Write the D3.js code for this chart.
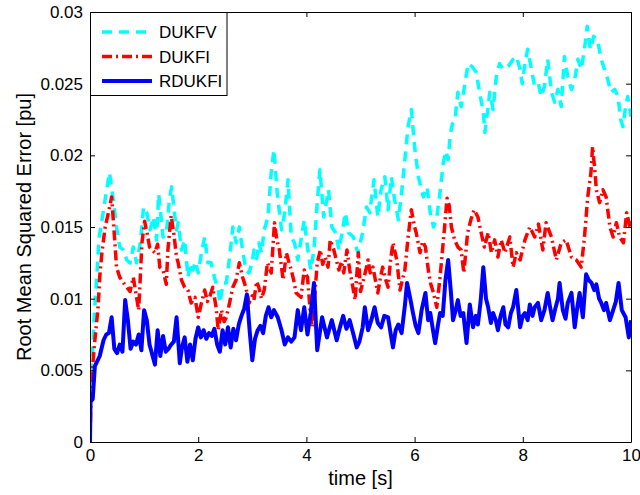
<!DOCTYPE html>
<html>
<head>
<meta charset="utf-8">
<script src="https://cdn.jsdelivr.net/npm/d3@7"></script>
<style>
  body { margin: 0; background: #fff; }
  text { font-family: "Liberation Sans", Arial, sans-serif; fill: #000; }
</style>
</head>
<body>
<div id="chart"></div>
<script>
// tick labels
const xTicks = [0, 2, 4, 6, 8, 10];
const yTicks = [0, 0.005, 0.01, 0.015, 0.02, 0.025, 0.03];

// DUKFV (cyan, dashed)
const tV = [0, 0.02, 0.05, 0.08, 0.11, 0.14, 0.17, 0.23, 0.3, 0.36, 0.43, 0.49, 0.55, 0.62, 0.68, 0.74, 0.8, 0.86, 0.93, 0.99,
  1.05, 1.11, 1.17, 1.23, 1.27, 1.35, 1.41, 1.47, 1.51, 1.56, 1.6, 1.63, 1.69, 1.75, 1.81, 1.86, 1.9, 1.95, 2.0,
  2.06, 2.12, 2.18, 2.24, 2.3, 2.37, 2.4, 2.46, 2.52, 2.58, 2.64, 2.7, 2.76, 2.82, 2.88, 2.94, 3.0,
  3.03, 3.08, 3.12, 3.17, 3.22, 3.29, 3.35, 3.4, 3.46, 3.54, 3.6, 3.66, 3.72, 3.78, 3.84, 3.9, 3.96, 4.02,
  4.08, 4.14, 4.2, 4.25, 4.32, 4.41, 4.47, 4.54, 4.6, 4.66, 4.72, 4.78, 4.87, 4.95, 5.04, 5.11, 5.17, 5.25,
  5.32, 5.38, 5.45, 5.51, 5.57, 5.63, 5.7, 5.76, 5.82, 5.88, 5.94, 6.0, 6.07, 6.16, 6.23, 6.29, 6.35, 6.41,
  6.47, 6.53, 6.58, 6.62, 6.66, 6.7, 6.74, 6.8, 6.86, 6.93, 6.99, 7.06, 7.14, 7.2, 7.27, 7.3, 7.33, 7.39,
  7.45, 7.51, 7.57, 7.64, 7.73, 7.82, 7.88, 7.95, 7.99, 8.04, 8.09, 8.16, 8.22, 8.29, 8.34, 8.4, 8.46, 8.53,
  8.59, 8.65, 8.71, 8.77, 8.83, 8.9, 8.96, 9.02, 9.08, 9.14, 9.19, 9.25, 9.31, 9.38, 9.45, 9.51, 9.57, 9.63,
  9.7, 9.76, 9.81, 9.85, 9.9, 9.94, 10.0];
const vV = [0.0036, 0.0048, 0.0064, 0.009, 0.0106, 0.0125, 0.0143, 0.0157, 0.0174, 0.0188, 0.0169, 0.015, 0.0136, 0.0134, 0.0127, 0.0125, 0.0136, 0.0125, 0.0139, 0.0164,
  0.016, 0.0148, 0.0157, 0.0141, 0.0173, 0.0143, 0.0145, 0.017, 0.0178, 0.016, 0.0148, 0.0153, 0.0134, 0.0141, 0.0115, 0.0125, 0.012, 0.0126, 0.0118,
  0.0132, 0.0143, 0.0125, 0.0125, 0.0115, 0.0106, 0.0097, 0.0111, 0.0111, 0.0129, 0.015, 0.0139, 0.015, 0.0134, 0.012, 0.0118, 0.0126,
  0.0134, 0.0128, 0.0139, 0.0132, 0.0148, 0.0157, 0.0188, 0.0204, 0.0174, 0.0148, 0.016, 0.0183, 0.0143, 0.0139, 0.0127, 0.0141, 0.0155, 0.0136,
  0.012, 0.0134, 0.0167, 0.019, 0.0157, 0.0176, 0.015, 0.0146, 0.0134, 0.0146, 0.016, 0.0146, 0.0143, 0.0132, 0.0146, 0.0164, 0.016, 0.0183,
  0.0157, 0.0176, 0.0185, 0.0162, 0.0185, 0.0169, 0.0155, 0.0174, 0.0197, 0.022, 0.0232, 0.0206, 0.0185, 0.0171, 0.0178, 0.016, 0.015, 0.0157,
  0.0174, 0.0195, 0.0203, 0.0197, 0.0215, 0.0222, 0.0223, 0.0244, 0.0234, 0.025, 0.0264, 0.0262, 0.0258, 0.0244, 0.023, 0.0216, 0.0225, 0.0244,
  0.0232, 0.0255, 0.0264, 0.026, 0.0262, 0.0267, 0.0269, 0.026, 0.025, 0.0264, 0.0274, 0.026, 0.0248, 0.025, 0.0241, 0.0248, 0.0267, 0.0244,
  0.0237, 0.0246, 0.0234, 0.0269, 0.0255, 0.0246, 0.0253, 0.0267, 0.026, 0.0274, 0.029, 0.0274, 0.0283, 0.0281, 0.0267, 0.026, 0.0253, 0.0244,
  0.0246, 0.0241, 0.0225, 0.022, 0.0234, 0.0241, 0.0227];

// DUKFI (red, dash-dot)
const tI = [0, 0.02, 0.09, 0.15, 0.18, 0.22, 0.28, 0.34, 0.4, 0.43, 0.46, 0.49, 0.55, 0.62, 0.68, 0.74, 0.8, 0.86, 0.9, 0.96,
  1.01, 1.06, 1.1, 1.15, 1.2, 1.25, 1.29, 1.35, 1.41, 1.44, 1.5, 1.55, 1.6, 1.63, 1.69, 1.75, 1.81, 1.87, 1.94, 2.0,
  2.06, 2.12, 2.17, 2.21, 2.27, 2.33, 2.37, 2.43, 2.48, 2.52, 2.58, 2.64, 2.7, 2.76, 2.82, 2.88, 2.94, 3.0,
  3.03, 3.08, 3.12, 3.17, 3.22, 3.28, 3.35, 3.41, 3.45, 3.5, 3.57, 3.63, 3.68, 3.72, 3.77, 3.81, 3.9, 3.96,
  4.02, 4.08, 4.11, 4.16, 4.2, 4.26, 4.3, 4.35, 4.4, 4.44, 4.5, 4.54, 4.6, 4.65, 4.69, 4.75, 4.8, 4.85, 4.9,
  4.96, 5.0, 5.04, 5.1, 5.14, 5.18, 5.23, 5.28, 5.32, 5.37, 5.41, 5.46, 5.51, 5.55, 5.6, 5.67, 5.73, 5.78,
  5.82, 5.88, 5.94, 6.0, 6.03, 6.1, 6.15, 6.2, 6.26, 6.3, 6.35, 6.41, 6.47, 6.55, 6.6, 6.64, 6.68, 6.74, 6.8,
  6.86, 6.91, 6.98, 7.04, 7.1, 7.17, 7.23, 7.29, 7.36, 7.42, 7.48, 7.54, 7.6, 7.67, 7.76, 7.82, 7.88, 7.95,
  8.04, 8.13, 8.22, 8.29, 8.37, 8.43, 8.53, 8.62, 8.71, 8.8, 8.9, 8.99, 9.08, 9.14, 9.2, 9.26, 9.29, 9.33,
  9.36, 9.42, 9.48, 9.54, 9.61, 9.67, 9.73, 9.79, 9.86, 9.92, 9.98, 10.0];
const vI = [0, 0.004, 0.0071, 0.0094, 0.0115, 0.0132, 0.015, 0.016, 0.0171, 0.0155, 0.0139, 0.0122, 0.0115, 0.0111, 0.0108, 0.0105, 0.0115, 0.0101, 0.0092, 0.0139,
  0.0154, 0.0145, 0.0136, 0.0134, 0.0132, 0.0138, 0.0122, 0.012, 0.011, 0.0134, 0.0158, 0.0145, 0.0129, 0.0125, 0.0113, 0.0108, 0.0106, 0.0097, 0.0101, 0.0087,
  0.0097, 0.0106, 0.0098, 0.0101, 0.0108, 0.0094, 0.0078, 0.0092, 0.0084, 0.0087, 0.0097, 0.0108, 0.0113, 0.0125, 0.0115, 0.0108, 0.0097, 0.0102,
  0.0099, 0.0112, 0.0108, 0.01, 0.0106, 0.0125, 0.0118, 0.0153, 0.0142, 0.0134, 0.0113, 0.0132, 0.0125, 0.012, 0.0112, 0.0104, 0.0101, 0.012,
  0.0115, 0.0087, 0.008, 0.0105, 0.0125, 0.0134, 0.0124, 0.0129, 0.0122, 0.0141, 0.0135, 0.0129, 0.012, 0.0126, 0.0118, 0.0134, 0.012, 0.011, 0.0099,
  0.0132, 0.0105, 0.0111, 0.012, 0.0127, 0.0118, 0.0122, 0.0112, 0.0104, 0.0115, 0.0122, 0.0114, 0.0108, 0.0125, 0.0139, 0.0127, 0.0106, 0.0114,
  0.012, 0.0143, 0.0162, 0.015, 0.0146, 0.0132, 0.014, 0.0136, 0.0118, 0.011, 0.0104, 0.0094, 0.0115, 0.0148, 0.017, 0.0165, 0.015, 0.0141, 0.0136,
  0.0134, 0.0118, 0.0146, 0.0155, 0.0162, 0.0157, 0.0146, 0.0136, 0.0146, 0.0132, 0.0141, 0.0129, 0.0141, 0.0132, 0.0143, 0.0122, 0.0132, 0.0127,
  0.0141, 0.015, 0.0143, 0.0152, 0.0134, 0.0153, 0.0143, 0.0127, 0.0139, 0.0141, 0.0129, 0.0127, 0.0122, 0.0143, 0.0171, 0.0188, 0.0206, 0.019,
  0.0176, 0.0167, 0.0176, 0.0171, 0.015, 0.0143, 0.0153, 0.0143, 0.0139, 0.016, 0.015, 0.0155];

// RDUKFI (blue, solid)
const tR = [0, 0.01, 0.05, 0.09, 0.18, 0.25, 0.3, 0.35, 0.4, 0.45, 0.5, 0.55, 0.6, 0.65, 0.7, 0.75, 0.8, 0.85, 0.9, 0.95,
  1.0, 1.05, 1.1, 1.15, 1.2, 1.25, 1.3, 1.35, 1.4, 1.45, 1.5, 1.55, 1.6, 1.66, 1.7, 1.75, 1.8, 1.85, 1.9, 1.95, 2.0,
  2.05, 2.1, 2.15, 2.2, 2.25, 2.3, 2.35, 2.4, 2.45, 2.5, 2.55, 2.6, 2.65, 2.7, 2.75, 2.8, 2.85, 2.9, 2.95, 3.0,
  3.05, 3.1, 3.15, 3.2, 3.25, 3.3, 3.35, 3.4, 3.47, 3.54, 3.6, 3.66, 3.72, 3.78, 3.84, 3.9, 3.96, 4.02, 4.08, 4.14,
  4.2, 4.29, 4.38, 4.47, 4.56, 4.62, 4.68, 4.74, 4.8, 4.87, 4.93, 4.98, 5.04, 5.08, 5.14, 5.2, 5.26, 5.32, 5.38,
  5.44, 5.51, 5.56, 5.6, 5.65, 5.7, 5.76, 5.82, 5.86, 5.92, 5.97, 6.02, 6.07, 6.13, 6.2, 6.25, 6.29, 6.34, 6.38,
  6.43, 6.47, 6.52, 6.57, 6.62, 6.67, 6.71, 6.76, 6.8, 6.85, 6.9, 6.96, 7.02, 7.08, 7.13, 7.17, 7.22, 7.27, 7.32,
  7.36, 7.41, 7.45, 7.5, 7.54, 7.59, 7.64, 7.68, 7.73, 7.78, 7.82, 7.88, 7.95, 8.0, 8.04, 8.09, 8.13, 8.18, 8.22,
  8.28, 8.34, 8.4, 8.46, 8.5, 8.55, 8.6, 8.65, 8.68, 8.74, 8.79, 8.83, 8.9, 8.96, 9.0, 9.05, 9.11, 9.17, 9.22,
  9.27, 9.32, 9.36, 9.41, 9.45, 9.5, 9.54, 9.61, 9.67, 9.72, 9.77, 9.83, 9.9, 9.96, 10.0];
const vR = [0, 0.0028, 0.003, 0.0053, 0.006, 0.0071, 0.0075, 0.0076, 0.0087, 0.0065, 0.0062, 0.0068, 0.0063, 0.0099, 0.0085, 0.0065, 0.007, 0.0068, 0.0075, 0.0064,
  0.0092, 0.0085, 0.0068, 0.0061, 0.0054, 0.0078, 0.006, 0.0074, 0.0063, 0.0065, 0.0068, 0.007, 0.0087, 0.0055, 0.0066, 0.0073, 0.0056, 0.0068, 0.0057, 0.0072, 0.008,
  0.0073, 0.0078, 0.0072, 0.0076, 0.0074, 0.0079, 0.0068, 0.0063, 0.0078, 0.0068, 0.008, 0.0066, 0.0079, 0.0071, 0.0082, 0.0088, 0.0093, 0.0103, 0.0078, 0.0057,
  0.0072, 0.0078, 0.0081, 0.0076, 0.0088, 0.0094, 0.0087, 0.0092, 0.0087, 0.0078, 0.0068, 0.0073, 0.007, 0.0073, 0.0092, 0.0078, 0.0094, 0.0075, 0.009, 0.0111,
  0.0064, 0.0087, 0.0073, 0.0085, 0.0071, 0.008, 0.0088, 0.0079, 0.0085, 0.0075, 0.0066, 0.007, 0.008, 0.0094, 0.0078, 0.0085, 0.0094, 0.0083, 0.008,
  0.0088, 0.0087, 0.0075, 0.0066, 0.0078, 0.0082, 0.0076, 0.0095, 0.0111, 0.01, 0.009, 0.0081, 0.0076, 0.0092, 0.0104, 0.0085, 0.009, 0.0078, 0.0069,
  0.0081, 0.009, 0.0088, 0.0113, 0.0127, 0.0105, 0.0085, 0.0092, 0.0099, 0.0088, 0.009, 0.0069, 0.0096, 0.008, 0.0088, 0.0082, 0.0098, 0.0122, 0.01,
  0.0094, 0.0083, 0.009, 0.0085, 0.0078, 0.0088, 0.0094, 0.0082, 0.008, 0.009, 0.0094, 0.0106, 0.008, 0.0088, 0.009, 0.0085, 0.0096, 0.0088, 0.0094,
  0.0097, 0.0085, 0.0092, 0.0104, 0.0095, 0.0085, 0.0093, 0.01, 0.0111, 0.0092, 0.0086, 0.0097, 0.0104, 0.008, 0.0092, 0.0104, 0.0087, 0.0117, 0.0113,
  0.0111, 0.0106, 0.011, 0.01, 0.0097, 0.0092, 0.0097, 0.0085, 0.0092, 0.0098, 0.0111, 0.0092, 0.0087, 0.0073, 0.0085];

const W = 640, H = 495;
const padL = 90, padR = 631, padT = 12, padB = 442;

const svg = d3.select("#chart").append("svg")
  .attr("width", W)
  .attr("height", H);

const x = d3.scaleLinear().domain([0, 10]).range([padL, padR]);
const y = d3.scaleLinear().domain([0, 0.03]).range([padB, padT]);

svg.append("clipPath").attr("id", "clip")
  .append("rect")
  .attr("x", padL).attr("y", padT)
  .attr("width", padR - padL).attr("height", padB - padT);

const series = [
  { name: "DUKFV", t: tV, v: vV, color: "#00ffff", dash: "10,7", width: 3.5 },
  { name: "DUKFI", t: tI, v: vI, color: "#ff0000", dash: "10,4,2,4", width: 3.5 },
  { name: "RDUKFI", t: tR, v: vR, color: "#0000ff", dash: null, width: 4 }
];

const line = d3.line()
  .defined(d => d[1] != null)
  .x(d => x(d[0]))
  .y(d => y(d[1]));

const plot = svg.append("g").attr("clip-path", "url(#clip)");

series.forEach(s => {
  plot.append("path")
    .datum(s.t.map((t, i) => [t, s.v[i]]))
    .attr("d", line)
    .attr("fill", "none")
    .attr("stroke", s.color)
    .attr("stroke-width", s.width)
    .attr("stroke-dasharray", s.dash)
    .attr("stroke-linejoin", "round");
});

// axes, MATLAB style: ticks inside on all four sides
const fmt = d => d3.format("~g")(d);

svg.append("g")
  .attr("transform", `translate(0,${padB})`)
  .call(d3.axisBottom(x).tickValues(xTicks).tickSizeInner(-5).tickSizeOuter(0).tickPadding(7).tickFormat(fmt))
  .call(g => g.selectAll("text").attr("font-size", 17));

svg.append("g")
  .attr("transform", `translate(${padL},0)`)
  .call(d3.axisLeft(y).tickValues(yTicks).tickSizeInner(-5).tickSizeOuter(0).tickPadding(7).tickFormat(fmt))
  .call(g => g.selectAll("text").attr("font-size", 17));

svg.append("g")
  .attr("transform", `translate(0,${padT})`)
  .call(d3.axisTop(x).tickValues(xTicks).tickSizeInner(-5).tickSizeOuter(0).tickFormat(""));

svg.append("g")
  .attr("transform", `translate(${padR},0)`)
  .call(d3.axisRight(y).tickValues(yTicks).tickSizeInner(-5).tickSizeOuter(0).tickFormat(""));

svg.selectAll(".domain").attr("stroke", "#000");
svg.selectAll(".tick line").attr("stroke", "#000");
svg.selectAll(".tick text").attr("font-family", "'Liberation Sans', Arial, sans-serif").attr("fill", "#000");

// axis labels
svg.append("text")
  .attr("x", (padL + padR) / 2)
  .attr("y", 485)
  .attr("text-anchor", "middle")
  .attr("font-size", 20)
  .text("time [s]");

svg.append("text")
  .attr("transform", `translate(31,${(padT + padB) / 2}) rotate(-90)`)
  .attr("text-anchor", "middle")
  .attr("font-size", 20)
  .text("Root Mean Squared Error [pu]");

// legend
const legend = svg.append("g");
legend.append("rect")
  .attr("x", padL + 0.5).attr("y", padT + 0.5)
  .attr("width", 136.5).attr("height", 83)
  .attr("fill", "#fff")
  .attr("stroke", "#000");

series.forEach((s, i) => {
  const ly = 32 + i * 24.5;
  legend.append("line")
    .attr("x1", 102).attr("x2", 152)
    .attr("y1", ly).attr("y2", ly)
    .attr("stroke", s.color)
    .attr("stroke-width", s.width)
    .attr("stroke-dasharray", s.dash);
  legend.append("text")
    .attr("x", 159).attr("y", ly + 6)
    .attr("font-size", 17)
    .text(s.name);
});
</script>
</body>
</html>
